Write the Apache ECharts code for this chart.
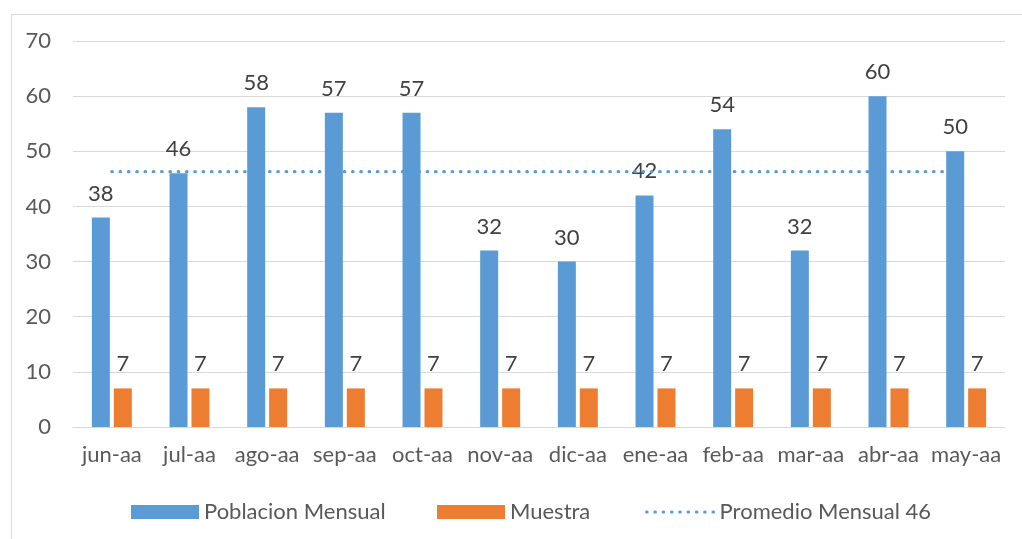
<!DOCTYPE html>
<html>
<head>
<meta charset="utf-8">
<script src="https://cdn.jsdelivr.net/npm/echarts@6/dist/echarts.min.js"></script>
<style>
html,body{margin:0;padding:0;background:#fff;}
#c{width:1022px;height:539px;}
</style>
</head>
<body>
<div id="c"></div>
<script>
const categories = ['jun-aa','jul-aa','ago-aa','sep-aa','oct-aa','nov-aa','dic-aa','ene-aa','feb-aa','mar-aa','abr-aa','may-aa'];
const poblacion = [38,46,58,57,57,32,30,42,54,32,60,50];
const muestra = [7,7,7,7,7,7,7,7,7,7,7,7];
const promedio = [46.3,46.3,46.3,46.3,46.3,46.3,46.3,46.3,46.3,46.3,46.3,46.3];
const yTicks = [0,10,20,30,40,50,60,70];

const FONT = 'Lato';
const chart = echarts.init(document.getElementById('c'));
const legendText = {fontFamily: FONT, fontSize: 22, color: '#595959'};
const dotted = {color: '#5b9bd5', width: 3.2, type: [0.5, 7.8], cap: 'round'};
chart.setOption({
  animation: false,
  backgroundColor: '#fff',
  textStyle: {fontFamily: FONT},
  graphic: [{
    type: 'rect', left: 9, top: 12, silent: true,
    shape: {width: 1100, height: 600},
    style: {fill: 'none', stroke: '#d9d9d9', lineWidth: 1}
  }],
  grid: {left: 73, right: 17, top: 41, bottom: 112, containLabel: false},
  legend: [
    {data: ['Poblacion Mensual'], icon: 'rect', left: 126, top: 496, itemWidth: 68, itemHeight: 14, textStyle: legendText, itemGap: 0},
    {data: ['Muestra'], icon: 'rect', left: 432, top: 496, itemWidth: 68, itemHeight: 14, textStyle: legendText, itemGap: 0},
    {data: ['Promedio Mensual 46'], left: 640, top: 496, itemWidth: 68, itemHeight: 14, textStyle: legendText, itemGap: 0,
     itemStyle: {opacity: 0}, lineStyle: dotted}
  ],
  xAxis: {
    type: 'category', data: categories,
    axisLine: {lineStyle: {color: '#d9d9d9', width: 1}},
    axisTick: {show: false},
    axisLabel: {fontFamily: FONT, fontSize: 22, color: '#595959', margin: 17, interval: 0}
  },
  yAxis: {
    type: 'value', min: yTicks[0], max: yTicks[yTicks.length-1], interval: 10,
    axisLine: {show: false}, axisTick: {show: false},
    splitLine: {lineStyle: {color: '#d9d9d9', width: 1}},
    axisLabel: {fontFamily: FONT, fontSize: 22, color: '#595959', margin: 22}
  },
  series: [
    {
      name: 'Poblacion Mensual', type: 'bar', data: poblacion,
      barWidth: 18, barGap: '22%',
      itemStyle: {color: '#5b9bd5'},
      label: {show: true, position: 'top', distance: 13, fontFamily: FONT, fontSize: 22, color: '#404040'}
    },
    {
      name: 'Muestra', type: 'bar', data: muestra,
      barWidth: 18,
      itemStyle: {color: '#ed7d31'},
      label: {show: true, position: 'top', distance: 13, fontFamily: FONT, fontSize: 22, color: '#404040'}
    },
    {
      name: 'Promedio Mensual 46', type: 'line', data: promedio,
      symbol: 'none', z: 5,
      itemStyle: {color: '#5b9bd5'},
      lineStyle: dotted
    }
  ]
});
</script>
</body>
</html>
